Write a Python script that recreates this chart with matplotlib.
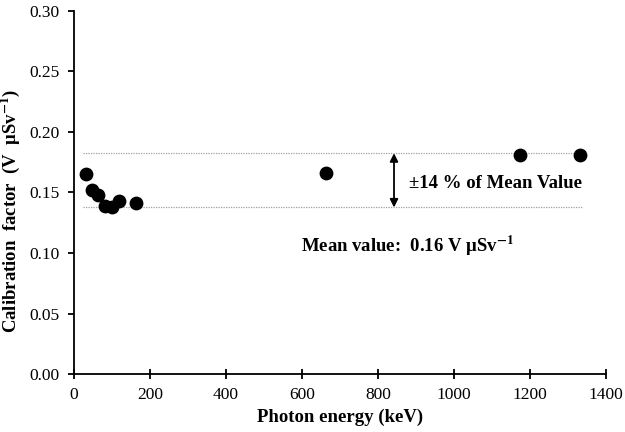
import matplotlib.pyplot as plt

# Kalibrointikertoimet fotonienergian funktiona
energia = [33, 48, 65, 83, 100, 118, 164, 662, 1173, 1332]
kerroin = [0.165, 0.152, 0.148, 0.139, 0.138, 0.143, 0.141, 0.166, 0.181, 0.181]

keskiarvo = 0.16
vaihtelu = 0.14
ylaraja = keskiarvo * (1 + vaihtelu)
alaraja = keskiarvo * (1 - vaihtelu)

plt.rcParams['font.family'] = ['Liberation Serif', 'DejaVu Serif']
plt.rcParams['mathtext.fontset'] = 'stix'

fig = plt.figure(figsize=(6.25, 4.32), dpi=100)
ax = fig.add_axes([0.118, 0.134, 0.852, 0.841])

# Raja-viivat
ax.plot([25, 1340], [ylaraja, ylaraja], color='#a0a0a0', lw=0.9, ls=(0, (1, 1)))
ax.plot([25, 1340], [alaraja, alaraja], color='#a0a0a0', lw=0.9, ls=(0, (1, 1)))

ax.scatter(energia, kerroin, s=80, color='black', zorder=3)

# Nuoli
ax.annotate('', xy=(842, alaraja), xytext=(842, ylaraja),
            arrowprops=dict(arrowstyle='<|-|>', color='black', lw=1.3,
                            mutation_scale=12, shrinkA=0, shrinkB=0))
ax.text(882, 0.157, '±14 % of Mean Value', fontsize=13.5, fontweight='bold',
        va='center', ha='left')
ax.text(597, 0.106, 'Mean value:  0.16 V μSv$^{\\mathbf{-1}}$', fontsize=13.5,
        fontweight='bold', va='center', ha='left')

ax.set_xlim(0, 1400)
ax.set_ylim(0, 0.30)
ax.set_xticks(range(0, 1401, 200))
ax.set_yticks([i * 0.05 for i in range(7)])
ax.set_yticklabels([f'{i * 0.05:.2f}' for i in range(7)])

ax.spines['top'].set_visible(False)
ax.spines['right'].set_visible(False)
ax.spines['left'].set_linewidth(1.3)
ax.spines['bottom'].set_linewidth(1.3)
ax.tick_params(axis='x', direction='inout', length=7, width=1.3, labelsize=12.5, pad=6)
ax.tick_params(axis='y', direction='out', length=4, width=1.3, labelsize=12.5, pad=6)

ax.set_xlabel('Photon energy (keV)', fontsize=13.5, fontweight='bold', labelpad=4)
ax.set_ylabel('Calibration  factor  (V  μSv$^{\\mathbf{-1}}$)', fontsize=13.5,
              fontweight='bold')
ax.yaxis.set_label_coords(-0.097, 0.45)

plt.savefig('out.png', dpi=100)
